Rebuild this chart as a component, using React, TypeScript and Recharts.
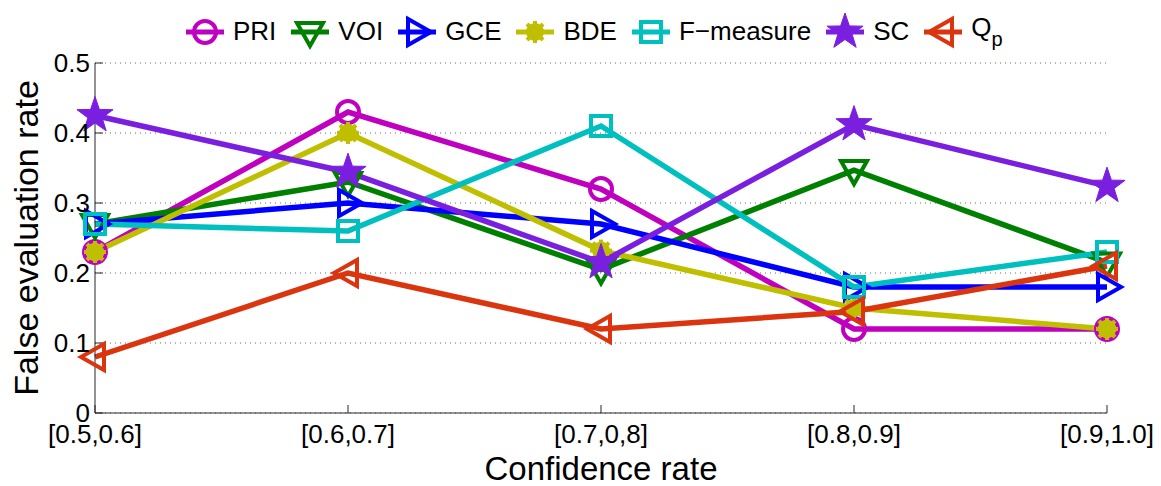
import { CartesianGrid, Line, LineChart, XAxis, YAxis } from "recharts";

const categories = ["[0.5,0.6]", "[0.6,0.7]", "[0.7,0,8]", "[0.8,0.9]", "[0.9,1.0]"];
const yTicks = [0, 0.1, 0.2, 0.3, 0.4, 0.5];

const pri = [0.23, 0.43, 0.32, 0.12, 0.12];
const voi = [0.27, 0.33, 0.205, 0.347, 0.215];
const gce = [0.27, 0.3, 0.27, 0.18, 0.18];
const bde = [0.23, 0.4, 0.232, 0.15, 0.12];
const fMeasure = [0.27, 0.26, 0.41, 0.18, 0.23];
const sc = [0.425, 0.344, 0.215, 0.412, 0.324];
const qp = [0.08, 0.2, 0.12, 0.145, 0.21];

const font = "'Liberation Sans', Arial, Helvetica, sans-serif";

type Kind = "circle" | "down" | "right" | "asterisk" | "square" | "star" | "left";

const series: { key: string; name: string; color: string; kind: Kind; values: number[] }[] = [
  { key: "pri", name: "PRI", color: "#bf00bf", kind: "circle", values: pri },
  { key: "voi", name: "VOI", color: "#008000", kind: "down", values: voi },
  { key: "gce", name: "GCE", color: "#0000ff", kind: "right", values: gce },
  { key: "bde", name: "BDE", color: "#bfbf00", kind: "asterisk", values: bde },
  { key: "fm", name: "F\u2212measure", color: "#00bfbf", kind: "square", values: fMeasure },
  { key: "sc", name: "SC", color: "#7a1fe0", kind: "star", values: sc },
  { key: "qp", name: "Q", color: "#db3510", kind: "left", values: qp }
];

const rows = categories.map((cat, i) => {
  const row: Record<string, string | number> = { cat };
  series.forEach((s) => {
    row[s.key] = s.values[i];
  });
  return row;
});

function starPoints(cx: number, cy: number, R: number, r: number) {
  const pts: string[] = [];
  for (let i = 0; i < 10; i++) {
    const rad = i % 2 === 0 ? R : r;
    const a = -Math.PI / 2 + (i * Math.PI) / 5;
    pts.push(`${cx + rad * Math.cos(a)},${cy + rad * Math.sin(a)}`);
  }
  return pts.join(" ");
}

function Marker({ kind, cx, cy, color }: { kind: Kind; cx: number; cy: number; color: string }) {
  const sw = 4;
  switch (kind) {
    case "circle":
      return <circle cx={cx} cy={cy} r={11} fill="none" stroke={color} strokeWidth={sw} />;
    case "down":
      return (
        <polygon
          points={`${cx - 13},${cy - 9} ${cx + 13},${cy - 9} ${cx},${cy + 14}`}
          fill="none"
          stroke={color}
          strokeWidth={sw}
        />
      );
    case "right":
      return (
        <polygon
          points={`${cx - 9},${cy - 13} ${cx - 9},${cy + 13} ${cx + 14},${cy}`}
          fill="none"
          stroke={color}
          strokeWidth={sw}
        />
      );
    case "left":
      return (
        <polygon
          points={`${cx + 9},${cy - 13} ${cx + 9},${cy + 13} ${cx - 14},${cy}`}
          fill="none"
          stroke={color}
          strokeWidth={sw}
        />
      );
    case "square":
      return <rect x={cx - 10} y={cy - 10} width={20} height={20} fill="none" stroke={color} strokeWidth={sw} />;
    case "star":
      return <polygon points={starPoints(cx, cy, 19, 7.5)} fill={color} stroke={color} strokeWidth={1} />;
    case "asterisk":
      return (
        <g stroke={color} strokeWidth={4}>
          <circle cx={cx} cy={cy} r={7} fill={color} />
          <line x1={cx - 11} y1={cy} x2={cx + 11} y2={cy} />
          <line x1={cx} y1={cy - 11} x2={cx} y2={cy + 11} />
          <line x1={cx - 8} y1={cy - 8} x2={cx + 8} y2={cy + 8} />
          <line x1={cx - 8} y1={cy + 8} x2={cx + 8} y2={cy - 8} />
        </g>
      );
  }
}

function LegendRow() {
  return (
    <div
      style={{
        position: "absolute",
        left: 186,
        top: 12,
        display: "flex",
        alignItems: "center",
        fontFamily: font,
        fontSize: 26,
        color: "#000",
        whiteSpace: "nowrap"
      }}
    >
      {series.map((s) => (
        <div key={s.key} style={{ display: "flex", alignItems: "center", marginRight: 15 }}>
          <svg width={38} height={36} style={{ overflow: "visible" }}>
            <line x1={0} y1={18} x2={38} y2={18} stroke={s.color} strokeWidth={5} />
            <Marker kind={s.kind} cx={19} cy={18} color={s.color} />
          </svg>
          <span style={{ marginLeft: 9 }}>
            {s.name}
            {s.key === "qp" ? <sub style={{ fontSize: 20, verticalAlign: -10 }}>p</sub> : null}
          </span>
        </div>
      ))}
    </div>
  );
}

export default function App() {
  const axisStroke = "#262626";
  return (
    <div style={{ position: "absolute", left: 0, top: 0, width: 1161, height: 486, background: "#fff", fontFamily: font }}>
      <LineChart width={1161} height={486} data={rows} margin={{ top: 63, right: 54, bottom: 0, left: 0 }}>
        <CartesianGrid vertical={false} stroke="#6a6a6a" strokeDasharray="1 4" yAxisId="left" />
        <XAxis
          dataKey="cat"
          scale="point"
          padding={{ left: 0, right: 0 }}
          height={73}
          tickSize={-8}
          tickMargin={20}
          tick={{ fill: "#000", fontSize: 26 }}
          axisLine={{ stroke: axisStroke }}
          tickLine={{ stroke: axisStroke }}
          label={{
            content: () => (
              <text x={601} y={480} textAnchor="middle" fontSize={33} fill="#000">
                Confidence rate
              </text>
            )
          }}
        />
        <XAxis
          xAxisId="top"
          orientation="top"
          dataKey="cat"
          scale="point"
          padding={{ left: 0, right: 0 }}
          height={0}
          tickSize={-8}
          tick={false}
          axisLine={{ stroke: axisStroke }}
          tickLine={{ stroke: axisStroke }}
        />
        <YAxis
          yAxisId="left"
          domain={[0, 0.5]}
          ticks={yTicks}
          width={95}
          tickSize={-8}
          tickMargin={13}
          tick={{ fill: "#000", fontSize: 26 }}
          tickFormatter={(v: number) => (v === 0 ? "0" : String(v))}
          axisLine={{ stroke: axisStroke }}
          tickLine={{ stroke: axisStroke }}
          label={{
            content: () => (
              <text transform="translate(38,238) rotate(-90)" textAnchor="middle" fontSize={34} fill="#000">
                False evaluation rate
              </text>
            )
          }}
        />
        <YAxis
          yAxisId="right"
          orientation="right"
          domain={[0, 0.5]}
          ticks={yTicks}
          width={0}
          tickSize={-8}
          tick={false}
          axisLine={{ stroke: axisStroke }}
          tickLine={{ stroke: axisStroke }}
        />
        {series.map((s) => (
          <Line
            key={s.key}
            yAxisId="left"
            dataKey={s.key}
            name={s.name}
            stroke={s.color}
            strokeWidth={5.5}
            isAnimationActive={false}
            activeDot={false}
            dot={(p: any) => <Marker key={`${s.key}-${p.index}`} kind={s.kind} cx={p.cx} cy={p.cy} color={s.color} />}
          />
        ))}
      </LineChart>
      <LegendRow />
    </div>
  );
}
